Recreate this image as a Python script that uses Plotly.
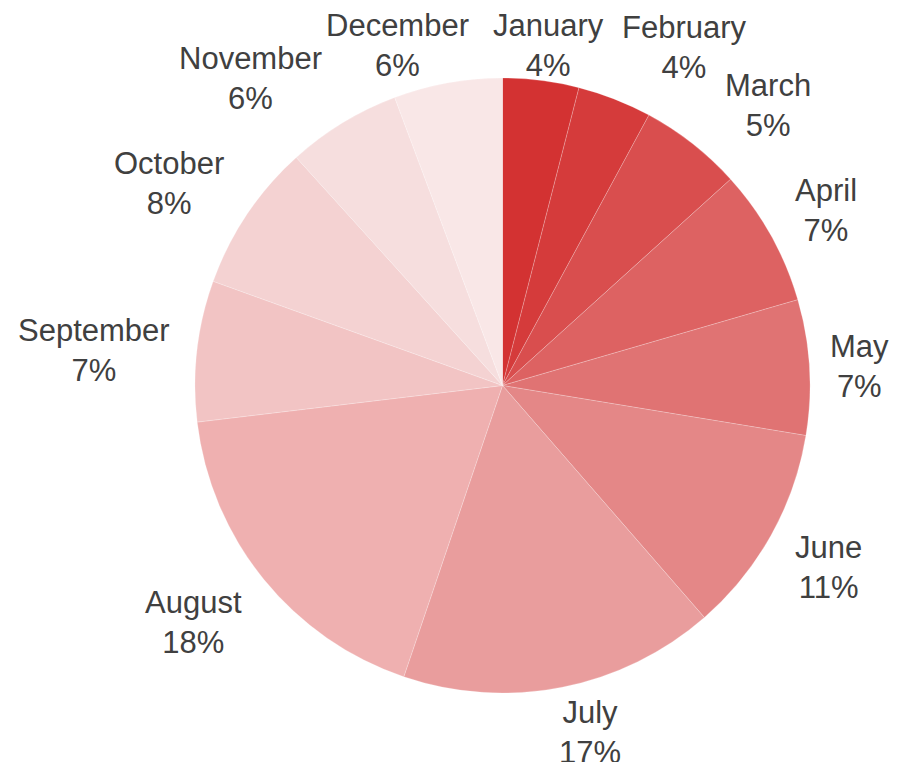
import math

import plotly.graph_objects as go

# monthly share, read clockwise from 12 o'clock
months = ["January", "February", "March", "April", "May", "June",
          "July", "August", "September", "October", "November", "December"]
shares = [4.0, 3.9, 5.4, 7.2, 7.1, 11.0, 16.6, 17.9, 7.4, 7.8, 6.0, 5.7]
colors = ["#d33232", "#d53b3b", "#d94e4e", "#dd6262", "#e07373", "#e48787",
          "#e99d9d", "#efb0b0", "#f2c4c4", "#f4d2d2", "#f6dede", "#f9e7e7"]

TEXT = "#404040"
FONT = "Arial, Liberation Sans, sans-serif"

# small pixel nudges (right, down) so crowded labels don't collide
LABEL_NUDGE = {"January": (4, 11), "February": (-4, -7), "March": (15, 6),
               "April": (0, 17), "May": (-6, 0), "June": (0, -10), "July": (-10, 0),
               "October": (0, 12), "November": (-6, 0), "December": (28, 8)}

total = sum(shares)
mid_angles, cum = [], 0.0
for s in shares:
    mid_angles.append(360 * (cum + s / 2) / total)
    cum += s


def _anchor(a):
    # (xanchor, yanchor) so each label sits on the outward side of its slice
    if a < 15 or a > 352:
        return "center", "bottom"
    if a < 75:
        return "left", "bottom"
    if a < 105:
        return "left", "middle"
    if a < 175:
        return "left", "top"
    if a < 185:
        return "center", "top"
    if a < 255:
        return "right", "top"
    if a < 290:
        return "right", "middle"
    return "right", "bottom"


fig = go.Figure(go.Pie(
    labels=months, values=shares, sort=False, direction="clockwise",
    marker=dict(colors=colors, line=dict(color="rgba(255,255,255,0.35)", width=0.6)),
    textinfo="none", automargin=False, showlegend=False,
    hovertemplate="%{label}: %{percent:.0%}<extra></extra>",
))

# invisible anchors on the pie rim (unit circle on a hidden square axis pair)
xs = [math.sin(math.radians(a)) for a in mid_angles]
ys = [math.cos(math.radians(a)) for a in mid_angles]
fig.add_trace(go.Scatter(x=xs, y=ys, mode="markers", marker=dict(opacity=0),
                         hoverinfo="skip", showlegend=False))

for m, s, a, x, y in zip(months, shares, mid_angles, xs, ys):
    xa, ya = _anchor(a)
    nx, ny = LABEL_NUDGE.get(m, (0, 0))
    fig.add_annotation(
        x=x, y=y, xref="x", yref="y", text=f"{m}<br>{s / total:.0%}",
        showarrow=False, xanchor=xa, yanchor=ya, align="center",
        xshift=25 * x + nx, yshift=6 * y - ny,
        font=dict(family=FONT, size=31, color=TEXT),
    )

fig.update_layout(
    width=899, height=762,
    margin=dict(l=187, r=97, t=70, b=77),
    paper_bgcolor="#ffffff", plot_bgcolor="rgba(0,0,0,0)",
    font=dict(family=FONT, color=TEXT),
    xaxis=dict(range=[-1, 1], visible=False, fixedrange=True),
    yaxis=dict(range=[-1, 1], visible=False, fixedrange=True),
)
fig.write_html("out.html")
